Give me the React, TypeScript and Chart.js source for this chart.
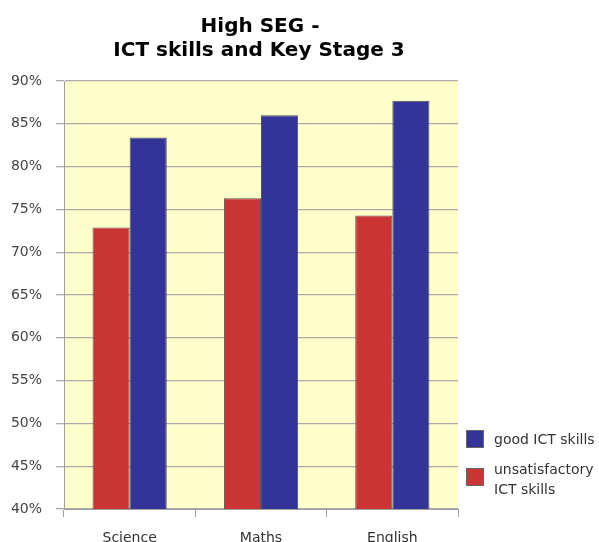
import React, { useEffect, useRef } from "react";
import { Chart, registerables } from "chart.js";

Chart.register(...registerables);

const categories = ["Science", "Maths", "English"];
const unsatisfactoryValues = [72.9, 76.3, 74.3];
const goodValues = [83.4, 86.0, 87.7];
const titleLines = ["High SEG -", "ICT skills and Key Stage 3"];
const legendItems = [
  { label: ["good ICT skills"], color: "#333399" },
  { label: ["unsatisfactory", "ICT skills"], color: "#CC3333" },
];

const FONT = "'DejaVu Sans', sans-serif";

const decorPlugin = {
  id: "decor",
  beforeDraw(chart: any) {
    const { ctx, chartArea } = chart;
    ctx.save();
    ctx.fillStyle = "#FFFFCC";
    ctx.fillRect(chartArea.left, chartArea.top, chartArea.right - chartArea.left, chartArea.bottom - chartArea.top);
    ctx.restore();
  },
  afterDraw(chart: any) {
    const { ctx } = chart;
    ctx.save();
    // title
    ctx.fillStyle = "#000";
    ctx.font = `bold 20px ${FONT}`;
    ctx.textAlign = "center";
    ctx.textBaseline = "alphabetic";
    ctx.fillText(titleLines[0], 260, 32);
    ctx.fillText(titleLines[1], 259, 56);
    // legend
    ctx.font = `14px ${FONT}`;
    ctx.textAlign = "left";
    ctx.textBaseline = "middle";
    const boxes = [430, 468];
    legendItems.forEach((item, i) => {
      const y = boxes[i];
      ctx.fillStyle = item.color;
      ctx.fillRect(466, y, 18, 18);
      ctx.strokeStyle = "#666";
      ctx.lineWidth = 1;
      ctx.strokeRect(466.5, y + 0.5, 17, 17);
      ctx.fillStyle = "#333";
      item.label.forEach((t, j) => {
        ctx.fillText(t, 494, (i === 0 ? 440 : 470) + j * 20);
      });
    });
    ctx.restore();
  },
};

export default function App() {
  const ref = useRef<HTMLCanvasElement | null>(null);
  useEffect(() => {
    document.body.style.margin = "0";
    const canvas = ref.current!;
    const chart = new Chart(canvas, {
      type: "bar",
      data: {
        labels: categories,
        datasets: [
          {
            label: "unsatisfactory ICT skills",
            data: unsatisfactoryValues,
            backgroundColor: "#CC3333",
            borderColor: "#555555",
            borderWidth: 1,
          },
          {
            label: "good ICT skills",
            data: goodValues,
            backgroundColor: "#333399",
            borderColor: "#555555",
            borderWidth: 1,
          },
        ],
      },
      options: {
        responsive: false,
        animation: false,
        devicePixelRatio: 1,
        layout: { padding: { top: 81, right: 141, left: 0, bottom: 0 } },
        plugins: {
          legend: { display: false },
          title: { display: false },
          tooltip: { enabled: false },
        },
        datasets: {
          bar: { categoryPercentage: 0.565, barPercentage: 1 },
        },
        scales: {
          x: {
            afterFit: (s: any) => {
              s.height = 33;
            },
            grid: {
              offset: true,
              drawOnChartArea: false,
              drawTicks: true,
              tickLength: 8,
              color: "#A0A0A0",
            },
            border: { display: true, color: "#A0A0A0" },
            ticks: {
              padding: 13,
              color: "#333",
              font: { family: FONT, size: 14 },
            },
          },
          y: {
            min: 40,
            max: 90,
            afterFit: (s: any) => {
              s.width = 64;
            },
            ticks: {
              stepSize: 5,
              padding: 14,
              color: "#444",
              font: { family: FONT, size: 14 },
              callback: (v: any) => `${v}%`,
            },
            grid: {
              color: "#AAAAAA",
              lineWidth: 1.3,
              tickLength: 8,
              drawTicks: true,
            },
            border: { display: true, color: "#A0A0A0" },
          },
        },
      },
      plugins: [decorPlugin],
    });
    return () => chart.destroy();
  }, []);
  return (
    <div style={{ width: 599, height: 542 }}>
      <canvas ref={ref} width={599} height={542} style={{ width: 599, height: 542, display: "block" }} />
    </div>
  );
}
